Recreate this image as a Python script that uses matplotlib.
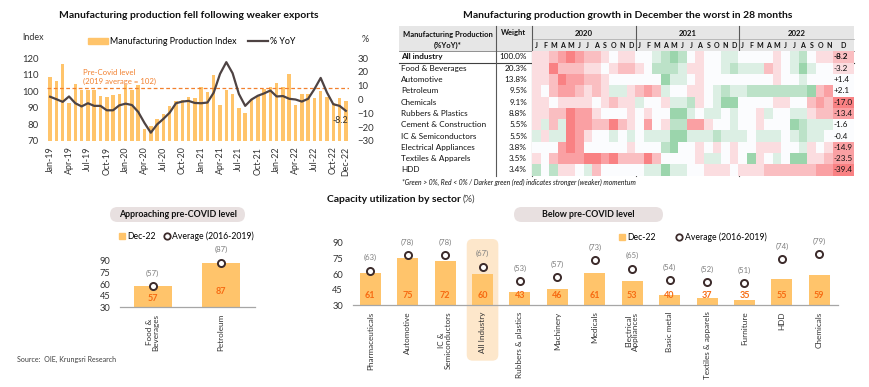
import numpy as np
import matplotlib
matplotlib.use('Agg')
import matplotlib.pyplot as plt
from matplotlib.colors import LinearSegmentedColormap, Normalize
from matplotlib.patches import FancyBboxPatch, Rectangle, Patch
from matplotlib.lines import Line2D

plt.rcParams['font.family'] = ['Lato', 'DejaVu Sans']

W, H = 870, 387

# ---------------- data ----------------
months = [f'{m}-{y}' for y in ('19', '20', '21', '22')
          for m in ('Jan', 'Feb', 'Mar', 'Apr', 'May', 'Jun',
                    'Jul', 'Aug', 'Sep', 'Oct', 'Nov', 'Dec')]
mpi = [108.5, 106.0, 116.5, 93.0, 104.5, 101.0, 100.5, 100.5, 97.0, 96.5, 97.5, 98.3,
       104.0, 101.0, 104.0, 77.0, 79.0, 83.0, 86.5, 91.0, 94.3, 95.0, 96.3, 95.7,
       102.3, 99.3, 109.8, 91.5, 100.7, 98.3, 90.1, 86.7, 95.2, 97.2, 101.3, 102.3,
       105.0, 102.3, 110.4, 91.5, 98.3, 98.3, 96.0, 100.3, 96.8, 92.8, 95.8, 94.2]
yoy = [2.0, 0.2, -1.7, 2.2, -2.7, -5.0, -2.7, -4.6, -4.6, -7.8, -7.8, -4.2,
       -3.0, -4.0, -9.0, -17.0, -24.0, -18.0, -14.0, -9.5, -2.7, -1.5, -1.0, -2.5,
       -2.7, -2.2, 5.0, 18.5, 27.0, 19.0, 4.0, -4.6, 0.0, 2.7, 4.4, 6.5,
       2.2, 2.5, 0.5, 0.0, -1.5, 0.5, 7.5, 15.6, 5.0, -3.4, -4.6, -8.2]
pre_covid = 102

sectors = ['All industry', 'Food & Beverages', 'Automotive', 'Petroleum', 'Chemicals',
           'Rubbers & Plastics', 'Cement & Construction', 'IC & Semiconductors',
           'Electrical Appliances', 'Textiles & Apparels', 'HDD']
weights = ['100.0%', '20.3%', '13.8%', '9.5%', '9.1%', '8.8%', '5.5%', '5.5%',
           '3.8%', '3.5%', '3.4%']
years = ['2020', '2021', '2022']
month_letters = ['J', 'F', 'M', 'A', 'M', 'J', 'J', 'A', 'S', 'O', 'N', 'D']
dec22 = ['-8.2', '-3.2', '+1.4', '+2.1', '-17.0', '-13.4', '-1.6', '-0.4',
         '-14.9', '-23.5', '-39.4']
# momentum shade (-4 strongest red ... +4 strongest green)
shade_2020 = [[-1, -1, -2, -3, -4, -3, -2, -2, -1, 0, -1, -1],
              [-1, -1, -4, -2, -2, -2, -1, -1, 0, -1, -2, -2],
              [-1, -1, -2, -4, -3, -3, -2, -2, -1, 0, 0, 0],
              [-1, 0, -2, -3, -3, -2, -1, -2, -1, 1, 1, -1],
              [-1, -1, 0, -1, -1, -1, -1, 0, -1, -2, -1, -1],
              [-1, -1, -2, -2, -4, -3, -3, -1, 0, 0, 0, -1],
              [-1, 1, -2, 1, -4, -3, -3, -2, -2, -4, -2, -1],
              [1, -1, 1, 1, -4, -3, -1, 0, 0, 1, 0, 1],
              [0, 0, 0, -3, -4, -3, 0, 0, 0, 0, 0, -1],
              [-1, 0, -2, -3, -3, -3, -4, -4, -3, -4, -2, -2],
              [2, 0, 2, -1, -1, 0, 1, -2, 0, 0, 0, 0]]
shade_2021 = [[0, 0, 1, 2, 3, 2, 0, -1, 0, 0, 1, 1],
              [-1, 0, 2, 2, 2, 1, -1, -1, 0, 0, 1, 2],
              [0, 0, 0, 3, 1, 1, 0, -1, 0, 0, 0, 0],
              [-2, -3, -2, 1, 0, 0, -1, -1, 0, 1, 2, 1],
              [1, 0, 0, -1, 1, 1, 2, -1, 0, 1, 3, 3],
              [0, -1, 0, 0, 3, 3, 1, 0, 1, 1, 0, 1],
              [0, -3, 0, -1, 2, 2, -3, -3, -1, 0, 0, 1],
              [0, 1, 1, 1, 3, 3, 1, 1, 1, 2, 1, 1],
              [0, 0, 0, 2, 3, 0, 0, -1, 0, -1, 0, -1],
              [-2, -4, -2, 0, 0, 0, 0, -1, 1, 1, 0, -1],
              [0, 1, 1, 3, 1, 1, 0, 0, -1, -1, -1, 0]]
shade_2022 = [[0, 0, 0, 0, -1, 0, 1, 2, 0, -1, -1, -2],
              [1, 1, 1, -2, -1, 0, 1, 3, 1, 0, 0, -1],
              [0, 0, 0, 0, -1, 0, 0, 1, 0, 0, 0, 0],
              [1, 2, 2, 2, 2, 2, 2, 2, 3, -2, -3, 0],
              [0, 0, 0, 0, -1, -1, 0, 0, -2, -3, -2, -4],
              [0, 0, -1, 1, 0, 0, 1, 1, -1, -2, -2, -3],
              [0, 0, -1, 0, 0, 0, 3, 2, 1, 1, 1, 0],
              [1, 0, 1, 1, 1, 0, 1, 2, 1, 1, 0, 0],
              [0, 0, -1, -1, -1, 0, 0, 1, -1, 0, -1, -3],
              [0, 3, -1, 0, 1, 0, 3, 3, -1, -1, -2, -3],
              [-1, -1, -1, -2, -2, -2, -2, -2, -2, -3, -3, -4]]

cu_small = ['Food &\nBeverages', 'Petroleum']
cu_small_dec = [57, 87]
cu_small_avg = [57, 87]
cu_cats = ['Pharmaceuticals', 'Automotive', 'IC &\nSemiconductors', 'All Industry',
           'Rubbers & plastics', 'Machinery', 'Medicals', 'Electrical\nAppliances',
           'Basic metal', 'Textiles & apparels', 'Furniture', 'HDD', 'Chemicals']
cu_dec = [61, 75, 72, 60, 43, 46, 61, 53, 40, 37, 35, 55, 59]
cu_avg = [63, 78, 78, 67, 53, 57, 73, 65, 54, 52, 51, 74, 79]

# ---------------- style ----------------
bar_c = '#FFC46B'
orange = '#F2802E'
num_c = '#F76B12'
dark = '#333333'
line_c = '#4E4343'
circ_c = '#3B2A2A'
pill_c = '#E8E0E0'
blk = '#111111'


def rect(x0, y0, x1, y1):
    return [x0 / W, 1 - y1 / H, (x1 - x0) / W, (y1 - y0) / H]


fig = plt.figure(figsize=(W / 100, H / 100), dpi=100)
ov = fig.add_axes([0, 0, 1, 1], zorder=0)
ov.set_xlim(0, W)
ov.set_ylim(H, 0)
ov.axis('off')

# ================= top-left: MPI and %YoY =================
ov.text(189, 16, 'Manufacturing production fell following weaker exports',
        ha='center', va='center', fontsize=7.5, fontweight='bold', color=blk)
ax = fig.add_axes(rect(47, 58, 349, 141), zorder=1)
ax.patch.set_alpha(0)
x = np.arange(len(mpi))
ax.bar(x, mpi, width=0.55, color=bar_c, zorder=2)
ax.axhline(pre_covid, ls=(0, (3, 2)), color=orange, lw=0.9, zorder=3)
ax.set_xlim(-0.5, len(mpi) - 0.5)
ax.set_ylim(70, 120)
ax.set_yticks(range(70, 121, 10))
tick_idx = list(range(0, 48, 3)) + [47]
ax.set_xticks(tick_idx)
ax.set_xticklabels([months[i] for i in tick_idx], rotation=90, fontsize=6.4, color=dark)
ax.tick_params(axis='both', length=0, labelcolor=dark)
ax.tick_params(axis='y', pad=6, labelsize=6.9)
ax.tick_params(axis='x', pad=4)
for s in ax.spines.values():
    s.set_visible(False)
ax.text(5.2, 108.4, 'Pre-Covid level\n(2019 average = 102)', fontsize=5.6, color=orange,
        ha='left', va='center', linespacing=1.3)

ax2 = ax.twinx()
ax2.plot(x, yoy, color=line_c, lw=1.6, zorder=4)
ax2.set_ylim(-30, 30)
ax2.set_yticks(range(-30, 31, 10))
ax2.tick_params(axis='y', length=0, labelsize=6.9, labelcolor=dark, pad=6)
for s in ax2.spines.values():
    s.set_visible(False)
ax2.annotate(f'{yoy[-1]:.1f}', (x[-1], yoy[-1]), xytext=(-4, -7), textcoords='offset points',
             ha='center', va='center', fontsize=6.4, color=dark)

ov.text(22, 38, 'Index', fontsize=6.4, color=dark, va='center')
ov.text(362, 40, '%', fontsize=6.4, color=dark, va='center')
handles = [Patch(color=bar_c, label='Manufacturing Production Index'),
           Line2D([], [], color=line_c, lw=1.6, label='% YoY')]
fig.legend(handles=handles, loc='center left', bbox_to_anchor=(88 / W, 1 - 41.5 / H),
           ncol=2, frameon=False, fontsize=6.4, handlelength=2.2, handleheight=0.8,
           handletextpad=0.3, columnspacing=1.3, borderaxespad=0, borderpad=0)

# ================= top-right: heatmap table =================
ov.text(628, 16, 'Manufacturing production growth in December the worst in 28 months',
        ha='center', va='center', fontsize=7.5, fontweight='bold', color=blk)
top, mid, hdr_bot = 26, 39, 51.3
row_h = (175.6 - hdr_bot) / len(sectors)
bot = hdr_bot + row_h * len(sectors)
x_name0, x_w, x_2020, x_2021, x_2022, x_dec, x_end = 399, 496, 532, 636, 739, 833, 854
ov.add_patch(Rectangle((x_name0, top), x_end - x_name0, hdr_bot - top, color='#E6E6E6', lw=0))
ov.plot([x_2020, x_end], [mid, mid], color='#A6A6A6', lw=0.5)
ov.plot([x_name0, x_end], [hdr_bot, hdr_bot], color='#7F7F7F', lw=0.6)
ov.plot([x_name0, x_end], [hdr_bot + row_h, hdr_bot + row_h], color='#404040', lw=0.8)
for xv in (x_w, x_2020, x_2021, x_2022):
    ov.plot([xv, xv], [top, bot], color='#595959', lw=0.8)
ov.text((x_name0 + x_w) / 2, 34, 'Manufacturing Production', ha='center', va='center',
        fontsize=5.5, fontweight='bold', color=blk)
ov.text((x_name0 + x_w) / 2, 45, '(%YoY)*', ha='center', va='center',
        fontsize=5.5, fontweight='bold', color=blk)
ov.text((x_w + x_2020) / 2, 33, 'Weight', ha='center', va='center',
        fontsize=5.5, fontweight='bold', color=blk)
for yr, (a, b) in zip(years, [(x_2020, x_2021), (x_2021, x_2022), (x_2022, x_end)]):
    ov.text((a + b) / 2, 33, yr, ha='center', va='center', fontsize=5.6,
            fontweight='bold', color=blk)

grid = np.hstack([np.array(shade_2020), np.array(shade_2021), np.array(shade_2022)])
n_m = grid.shape[1] - 1
col_w = (x_dec - x_2020) / n_m
xe = np.r_[np.arange(n_m + 1), n_m + (x_end - x_dec) / col_w]
hm = fig.add_axes(rect(x_2020, hdr_bot, x_end, bot), zorder=1)
cmap = LinearSegmentedColormap.from_list('rwg', ['#F8696B', '#FCFCFF', '#63BE7B'])
hm.pcolormesh(xe, np.arange(len(sectors) + 1), grid, cmap=cmap,
              norm=Normalize(-4.8, 4.8), shading='flat')
hm.set_xlim(xe[0], xe[-1])
hm.set_ylim(len(sectors), 0)
hm.axis('off')
for i in range(n_m + 1):
    xc = x_2020 + (xe[i] + xe[i + 1]) / 2 * col_w
    ov.text(xc, 45, month_letters[i % 12], ha='center', va='center', fontsize=5.0,
            fontweight='bold', color=blk)
for i, (name, wgt, dv) in enumerate(zip(sectors, weights, dec22)):
    yc = hdr_bot + (i + 0.5) * row_h
    fw = 'bold' if i == 0 else 'normal'
    ov.text(401, yc, name, ha='left', va='center', fontsize=5.9, fontweight=fw, color=blk)
    ov.text(527, yc, wgt, ha='right', va='center', fontsize=5.9, color=blk)
    hm.text(n_m + 0.05, i + 0.5, dv, ha='left', va='center', fontsize=5.9,
            fontweight=fw, color=blk)
ov.text(402, 182, '*Green > 0%, Red < 0% / Darker green (red) indicates stronger (weaker) momentum',
        ha='left', va='center', fontsize=4.9, style='italic', color=blk)

# ================= bottom: capacity utilization =================
def pill(x0, x1, y0, y1, label):
    ov.add_patch(FancyBboxPatch((x0, y0), x1 - x0, y1 - y0,
                                boxstyle='round,pad=0,rounding_size=7.5', fc=pill_c, ec='none'))
    ov.text((x0 + x1) / 2, (y0 + y1) / 2, label, ha='center', va='center', fontsize=6.4,
            fontweight='bold', color=blk)


def cu_chart(box, cats, dec, avg, lab_y, xlim):
    a = fig.add_axes(rect(*box), zorder=1)
    a.patch.set_alpha(0)
    xi = np.arange(len(cats))
    a.bar(xi, dec, width=0.56, color=bar_c, zorder=2)
    a.scatter(xi, avg, s=26, facecolor='white', edgecolor=circ_c, linewidth=1.4, zorder=4,
              clip_on=False)
    for k in xi:
        a.annotate(f'({avg[k]})', (k, avg[k]), xytext=(0, 9.5), textcoords='offset points',
                   ha='center', va='center', fontsize=5.6, color='#7F7F7F', annotation_clip=False)
        a.text(k, lab_y[k], str(dec[k]), ha='center', va='center', fontsize=6.5,
               fontweight='bold', color=num_c, zorder=3)
    a.set_ylim(30, 90)
    a.set_yticks(range(30, 91, 15))
    a.set_xlim(*xlim)
    a.set_xticks(xi)
    a.set_xticklabels(cats, rotation=90, color=dark, linespacing=1.0)
    a.tick_params(length=0, labelcolor=dark)
    a.tick_params(axis='x', labelsize=5.9, pad=4.5)
    a.tick_params(axis='y', labelsize=6.7, pad=7)
    for s in ('top', 'right', 'left'):
        a.spines[s].set_visible(False)
    a.spines['bottom'].set_color('#A6A6A6')
    a.spines['bottom'].set_linewidth(0.9)
    return a


def cu_legend(x0, y0, gap):
    hs = [Patch(color=bar_c, label='Dec-22'),
          Line2D([], [], ls='none', marker='o', ms=4.6, mfc='white', mec=circ_c, mew=1.3,
                 label='Average (2016-2019)')]
    fig.legend(handles=hs, loc='center left', bbox_to_anchor=(x0 / W, 1 - y0 / H), ncol=2,
               frameon=False, fontsize=6.2, handlelength=0.7, handleheight=0.7,
               handletextpad=0.3, columnspacing=gap, borderaxespad=0, borderpad=0)


pill(110, 245, 207, 222, 'Approaching pre-COVID level')
cu_legend(119, 236, 0.9)
cu_chart((120, 260.7, 255, 307.3), cu_small, cu_small_dec, cu_small_avg, [41.5, 50],
         (-0.48, 1.5))

t = ov.text(327, 199, 'Capacity utilization by sector', fontsize=7.5, va='center', ha='left',
            fontweight='bold', color=blk)
fig.canvas.draw()
bb = t.get_window_extent()
ov.text(327 + bb.width + 2, 199, '(%)', fontsize=6.8, va='center', ha='left', color='#404040')

pill(514, 663, 207, 222, 'Below pre-COVID level')
cu_legend(619, 237, 2.3)
xl = (-0.47, len(cu_cats) - 0.5)
box = (352.7, 242.7, 838, 305.3)
k_all = cu_cats.index('All Industry')
xc = box[0] + (k_all - xl[0]) / (xl[1] - xl[0]) * (box[2] - box[0])
ov.add_patch(FancyBboxPatch((xc - 15.8, 239), 31.6, 121.7,
                            boxstyle='round,pad=0,rounding_size=6', fc='#FDE7CB', ec='none'))
cu_chart(box, cu_cats, cu_dec, cu_avg, [39] * len(cu_cats), xl)

ov.text(17, 359, 'Source:  OIE, Krungsri Research', fontsize=5.1, color='#404040',
        ha='left', va='center')

fig.savefig('out.png', dpi=100)
